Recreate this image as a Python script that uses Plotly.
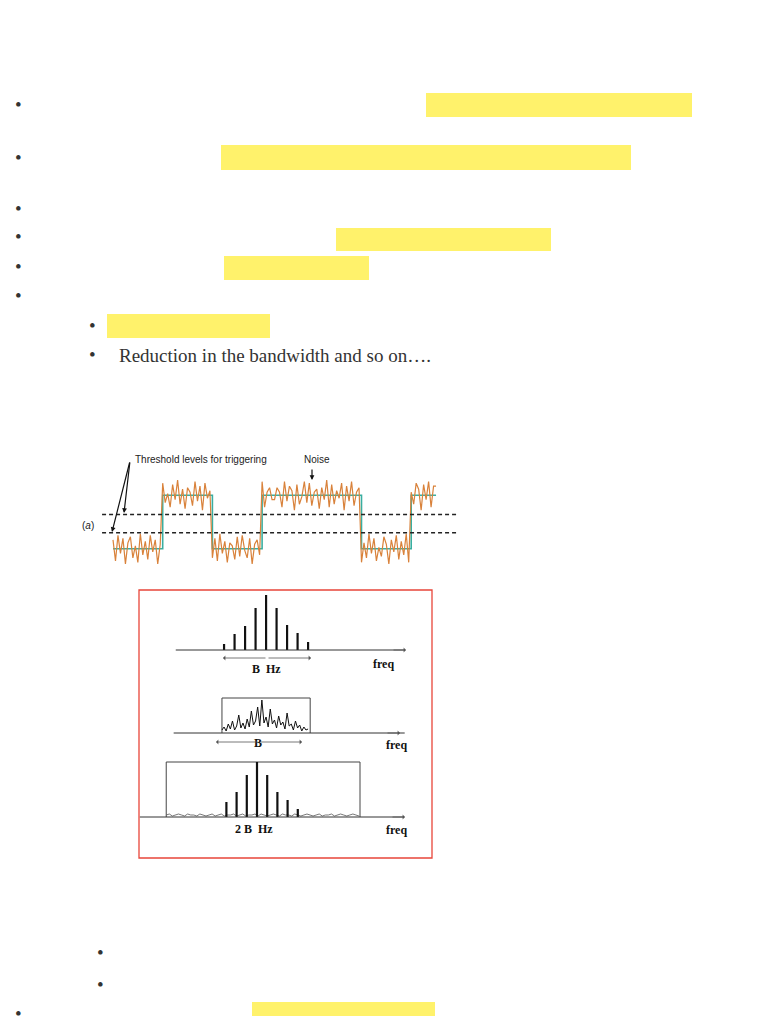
import plotly.graph_objects as go

# page size; the browser adds an 8px body margin, so the figure is drawn 16px smaller
PAGE_W, PAGE_H = 768, 1024
OFF = 8
W, H = PAGE_W - 2 * OFF, PAGE_H - 2 * OFF

# ---- data -------------------------------------------------------------
bits = [0, 1, 0, 1, 1, 0, 1]          # square wave levels per bit
wave_end = 6.5
thresholds = [0.64, 0.30]
noise_a = [0.6, -0.8, 0.9, -0.3, 0.7, -1.0, 0.4, 0.8, -0.6, 0.2, -0.9, 1.0, -0.4, 0.5, -0.7,
           0.9, -0.2, 0.6, -1.0, 0.3, 0.8, -0.5, 0.1, -0.8, 0.7, -0.3, 1.0, -0.6, 0.4, -0.9,
           0.5, 0.2, -0.7, 0.9, -0.4, 0.6, -1.0, 0.8, -0.2, 0.3, -0.6, 0.7, -0.8, 1.0, -0.3,
           0.5, -0.9, 0.4, 0.2, -0.7, 0.8, -0.5, 0.9, -0.1, -0.6, 0.7, -1.0, 0.3, 0.6, -0.4,
           0.9, -0.8, 0.2, 0.5, -0.3]

harm1 = [-4, -3, -2, -1, 0, 1, 2, 3, 4]
amp1 = [6, 16, 24, 42, 55, 42, 25, 17, 8]
amp3 = [15, 25, 42, 55, 42, 25, 17, 8]
harm3 = [-3, -2, -1, 0, 1, 2, 3, 4]

noise2_y = [3, 6, 2, 9, 4, 12, 3, 7, 18, 5, 10, 4, 14, 6, 22, 8, 12, 26, 7, 33, 10, 16, 6,
            24, 9, 13, 5, 17, 8, 11, 4, 20, 7, 9, 3, 12, 5, 8, 2, 6, 3, 4]
noise3_y = [2, 3, 1, 2, 3, 2, 1, 3, 2, 2, 1, 3, 2, 1, 2, 3, 1, 2, 3, 1, 2, 2, 3, 1, 2, 3,
            1, 2, 2, 3, 1, 3, 2, 1, 2, 3, 2, 1, 3, 2, 2, 1, 3, 2, 1, 2, 3, 2, 1, 2, 3, 1,
            2, 2, 3, 1, 2, 3, 2, 1, 2, 3, 2, 1]

ORANGE = "#d9823b"
TEAL = "#3aaea0"
BLACK = "#111111"
YELLOW = "#fff26b"


def px(x, y):
    # page pixel -> paper coords
    return (x - OFF) / W, 1 - (y - OFF) / H


def dom_x(x0, x1):
    return [px(x0, 0)[0], px(x1, 0)[0]]


def dom_y(top, bottom):
    return [px(0, bottom)[1], px(0, top)[1]]


def label(x, y, text, font, xanchor="center"):
    a, b = px(x, y)
    fig.add_annotation(x=a, y=b, xref="paper", yref="paper", text=text, showarrow=False,
                       xanchor=xanchor, yanchor="middle", font=font)


fig = go.Figure()

# ---- waveform panel ---------------------------------------------------
nx = [i * 0.05 for i in range(int(wave_end / 0.05) + 1)]
noise_all = noise_a + noise_a[::-1] + noise_a[:1]
ny = [bits[min(int(x), len(bits) - 1)] + 0.28 * noise_all[i] for i, x in enumerate(nx)]
fig.add_trace(go.Scatter(x=list(range(len(bits))) + [wave_end], y=bits + [bits[-1]],
                         mode="lines", line=dict(color=TEAL, width=1.6, shape="hv"),
                         xaxis="x", yaxis="y"))
fig.add_trace(go.Scatter(x=nx, y=ny, mode="lines", line=dict(color=ORANGE, width=1.2),
                         xaxis="x", yaxis="y"))
for t in thresholds:
    fig.add_trace(go.Scatter(x=[-0.22, 6.95], y=[t, t], mode="lines",
                             line=dict(color="#222", width=1.3, dash="4px,3px"),
                             xaxis="x", yaxis="y"))


# ---- spectra ---------------------------------------------------------
def spikes(xs, ys):
    sx, sy = [], []
    for x, y in zip(xs, ys):
        sx += [x, x, None]
        sy += [0, y, None]
    return sx, sy


sx, sy = spikes(harm1, amp1)
fig.add_trace(go.Scatter(x=sx, y=sy, mode="lines", line=dict(color=BLACK, width=2.2),
                         xaxis="x2", yaxis="y2"))
fig.add_trace(go.Scatter(x=[-8.6, 13.2], y=[0, 0], mode="lines",
                         line=dict(color="#333", width=1), xaxis="x2", yaxis="y2"))

n2x = [-4.2 + i * 0.2 for i in range(len(noise2_y))]
fig.add_trace(go.Scatter(x=[-4.2, -4.2, 4.2, 4.2], y=[0, 35, 35, 0], mode="lines",
                         line=dict(color="#444", width=1), xaxis="x3", yaxis="y3"))
fig.add_trace(go.Scatter(x=n2x, y=noise2_y, mode="lines", line=dict(color=BLACK, width=1),
                         xaxis="x3", yaxis="y3"))
fig.add_trace(go.Scatter(x=[-8.8, 13.2], y=[0, 0], mode="lines",
                         line=dict(color="#333", width=1), xaxis="x3", yaxis="y3"))

n3x = [-8.9 + i * 0.3 for i in range(len(noise3_y))]
fig.add_trace(go.Scatter(x=[-8.9, -8.9, 10.1, 10.1], y=[0, 55, 55, 0], mode="lines",
                         line=dict(color="#444", width=1), xaxis="x4", yaxis="y4"))
fig.add_trace(go.Scatter(x=n3x, y=noise3_y, mode="lines", line=dict(color="#555", width=0.8),
                         xaxis="x4", yaxis="y4"))
sx, sy = spikes(harm3, amp3)
fig.add_trace(go.Scatter(x=sx, y=sy, mode="lines", line=dict(color=BLACK, width=2.2),
                         xaxis="x4", yaxis="y4"))
fig.add_trace(go.Scatter(x=[-11.5, 14.4], y=[0, 0], mode="lines",
                         line=dict(color="#333", width=1), xaxis="x4", yaxis="y4"))

hidden = dict(visible=False, fixedrange=True)
fig.update_layout(
    width=W, height=H, margin=dict(l=0, r=0, t=0, b=0),
    paper_bgcolor="white", plot_bgcolor="rgba(0,0,0,0)", showlegend=False,
    xaxis=dict(range=[-1, 7], domain=dom_x(63.3, 460.9), **hidden),
    yaxis=dict(range=[-0.6, 1.6], domain=dom_y(463, 581), **hidden),
    xaxis2=dict(range=[-12.1, 15.8], domain=dom_x(139, 432), **hidden),
    yaxis2=dict(range=[-25, 60], domain=dom_y(590, 675), anchor="x2", **hidden),
    xaxis3=dict(range=[-12.1, 15.8], domain=dom_x(139, 432), **hidden),
    yaxis3=dict(range=[-25, 40], domain=dom_y(693, 758), anchor="x3", **hidden),
    xaxis4=dict(range=[-11.57, 17.16], domain=dom_x(139, 432), **hidden),
    yaxis4=dict(range=[-30, 60], domain=dom_y(757, 847), anchor="x4", **hidden),
)

# yellow highlights
for x0, y0, x1, y1 in [(426, 93, 692, 117), (221, 145, 631, 170), (336, 228, 551, 251),
                       (224, 256, 369, 280), (107, 314, 270, 338), (252, 1002, 435, 1024)]:
    a, b = px(x0, y1)
    c, d = px(x1, y0)
    fig.add_shape(type="rect", xref="paper", yref="paper", x0=a, y0=b, x1=c, y1=d,
                  fillcolor=YELLOW, line_width=0, layer="below")

# red frame around spectra
a, b = px(139, 858)
c, d = px(432, 590)
fig.add_shape(type="rect", xref="paper", yref="paper", x0=a, y0=b, x1=c, y1=d,
              line=dict(color="#e8463a", width=1.3))

# bullets
bullet_font = dict(size=19, color="#333", family="Liberation Serif")
for x, y in [(18, 104), (18, 157), (18, 209), (18, 237), (18, 266), (18, 295),
             (92, 325), (92, 354), (100, 952), (100, 984), (18, 1013)]:
    label(x, y, "•", bullet_font)

label(117, 355, "Reduction in the bandwidth and so on….", bullet_font, xanchor="left")

# waveform labels
sans = dict(family="Liberation Sans", color="#222", size=10)
label(133, 460, "Threshold levels for triggering", sans, xanchor="left")
label(302, 460, "Noise", sans, xanchor="left")
label(88, 525, "(<i>a</i>)", sans)
for tx, ty in [(124, 513), (112, 532)]:
    a, b = px(tx, ty)
    fig.add_annotation(x=a, y=b, xref="paper", yref="paper", ax=130 - tx, ay=461 - ty,
                       showarrow=True, arrowhead=2, arrowsize=0.8, arrowwidth=1.2,
                       arrowcolor="#111", text="")
a, b = px(312, 480)
fig.add_annotation(x=a, y=b, xref="paper", yref="paper", ax=0, ay=-12,
                   showarrow=True, arrowhead=2, arrowsize=0.8, arrowwidth=1.2,
                   arrowcolor="#111", text="")

# spectrum labels and double arrows
serif = dict(family="Liberation Serif", color="#111", size=12)
for txt, x, y in [("B  Hz", 266, 669), ("freq", 383, 664), ("B", 258, 743),
                  ("freq", 396, 745), ("2 B  Hz", 254, 829), ("freq", 396, 830)]:
    label(x, y, "<b>" + txt + "</b>", serif)
for x0, x1, y in [(223, 311, 658), (216, 302, 742)]:
    for s, e in [(x0, x1), (x1, x0)]:
        a, b = px(s, y)
        fig.add_annotation(x=a, y=b, xref="paper", yref="paper", ax=(e - s) / 2, ay=0,
                           showarrow=True, arrowhead=1, arrowsize=1, arrowwidth=0.8,
                           arrowcolor="#555", text="")
for x, y in [(406, 650), (400, 733), (405, 817)]:
    a, b = px(x, y)
    fig.add_annotation(x=a, y=b, xref="paper", yref="paper", ax=-14, ay=0,
                       showarrow=True, arrowhead=1, arrowsize=1, arrowwidth=0.8,
                       arrowcolor="#555", text="")

fig.write_html("out.html")
